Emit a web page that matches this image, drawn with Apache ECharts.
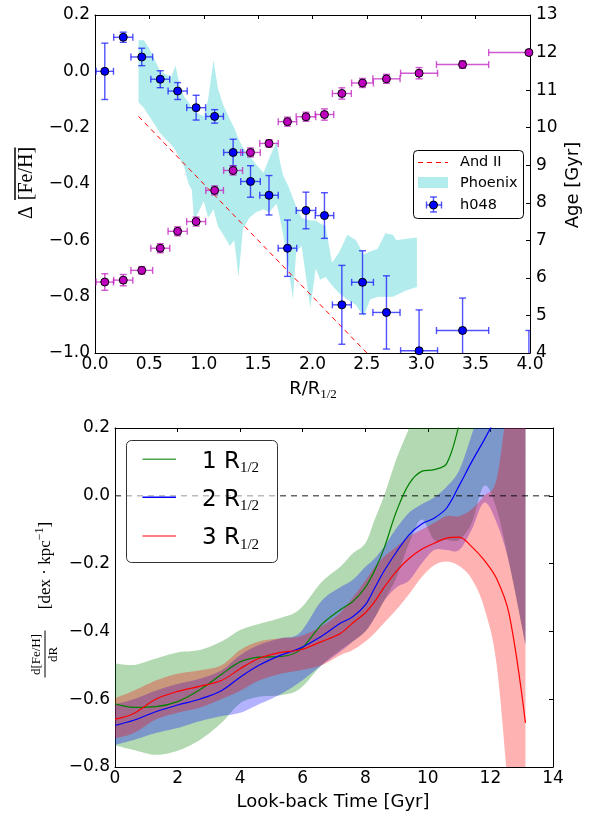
<!DOCTYPE html>
<html>
<head>
<meta charset="utf-8">
<script src="https://cdn.jsdelivr.net/npm/echarts@6/dist/echarts.min.js"></script>
<style>
  html, body { margin: 0; padding: 0; background: #fff; }
  #chart { width: 599px; height: 818px; }
</style>
</head>
<body>
<div id="chart"></div>
<script>
// ---- top panel: h048 radial bins ----
const binR     = [0.09, 0.26, 0.43, 0.6, 0.76, 0.93, 1.1, 1.27, 1.43, 1.6, 1.77, 1.94, 2.11, 2.27, 2.46, 2.68, 2.98, 3.38, 3.99];
const binRErr  = [0.08, 0.088, 0.1, 0.087, 0.088, 0.087, 0.081, 0.087, 0.09, 0.085, 0.085, 0.09, 0.085, 0.087, 0.1, 0.125, 0.17, 0.24, 0.37];
const fehH048  = [0.0, 0.121, 0.051, -0.028, -0.07, -0.129, -0.16, -0.288, -0.391, -0.44, -0.628, -0.494, -0.512, -0.829, -0.749, -0.856, -0.992, -0.92, -1.04];
const fehErr   = [0.1, 0.018, 0.031, 0.03, 0.03, 0.044, 0.024, 0.047, 0.056, 0.07, 0.1, 0.065, 0.081, 0.14, 0.112, 0.13, 0.145, 0.115, 0.12];
const ageH048  = [5.89, 5.94, 6.2, 6.79, 7.24, 7.5, 8.33, 8.86, 9.34, 9.58, 10.16, 10.29, 10.35, 10.91, 11.19, 11.3, 11.45, 11.68, 12.0];
const ageErr   = [0.22, 0.15, 0.1, 0.12, 0.12, 0.12, 0.12, 0.12, 0.12, 0.1, 0.12, 0.12, 0.15, 0.15, 0.12, 0.12, 0.15, 0.1, 0.05];

const andIIR   = [0.4, 2.5];
const andIIFeh = [-0.16, -1.0];

const phoenixR  = [0.4, 0.45, 0.5, 0.55, 0.6, 0.65, 0.7, 0.74, 0.78, 0.82, 0.86, 0.89, 0.91, 0.95, 1.0, 1.04, 1.09, 1.13, 1.18, 1.24, 1.28, 1.32, 1.36, 1.42, 1.48, 1.55, 1.6, 1.67, 1.7, 1.73, 1.78, 1.82, 1.85, 1.9, 1.98, 2.03, 2.07, 2.12, 2.18, 2.25, 2.32, 2.4, 2.47, 2.53, 2.6, 2.67, 2.74, 2.77, 2.85, 2.96];
const phoenixLo = [-0.11, -0.13, -0.16, -0.19, -0.22, -0.24, -0.26, -0.28, -0.31, -0.34, -0.4, -0.42, -0.53, -0.5, -0.46, -0.52, -0.49, -0.55, -0.58, -0.62, -0.6, -0.73, -0.56, -0.52, -0.5, -0.49, -0.5, -0.47, -0.52, -0.58, -0.7, -0.81, -0.64, -0.62, -0.84, -0.7, -0.74, -0.73, -0.76, -0.79, -0.81, -0.83, -0.87, -0.81, -0.8, -0.8, -0.8, -0.795, -0.78, -0.766];
const phoenixHi = [0.11, 0.11, 0.08, 0.04, 0.0, -0.01, -0.02, 0.02, -0.05, -0.09, -0.11, -0.13, -0.14, -0.15, -0.16, -0.1, 0.04, -0.06, -0.12, -0.17, -0.2, -0.24, -0.27, -0.3, -0.33, -0.36, -0.31, -0.25, -0.32, -0.37, -0.41, -0.45, -0.48, -0.52, -0.53, -0.53, -0.54, -0.55, -0.68, -0.64, -0.58, -0.6, -0.65, -0.64, -0.63, -0.575, -0.58, -0.6, -0.595, -0.59];

// ---- bottom panel: gradient vs look-back time ----
const lookback = [0, 0.6, 1.3, 2.0, 2.7, 3.4, 4.0, 4.6, 5.3, 5.9, 6.6, 7.2, 7.6, 8.0, 8.3, 8.6, 9.0, 9.4, 9.8, 10.2, 10.6, 11.0, 11.4, 11.8, 12.2, 12.6, 13.12];
const grad1 = [-0.614, -0.624, -0.622, -0.607, -0.573, -0.527, -0.49, -0.476, -0.474, -0.456, -0.38, -0.336, -0.312, -0.27, -0.22, -0.155, -0.045, 0.035, 0.072, 0.077, 0.095, 0.21, 0.36];
const grad2 = [-0.677, -0.662, -0.637, -0.617, -0.6, -0.575, -0.535, -0.5, -0.47, -0.45, -0.414, -0.376, -0.357, -0.322, -0.272, -0.222, -0.165, -0.115, -0.083, -0.066, -0.036, 0.03, 0.1, 0.165, 0.235];
const grad3 = [-0.659, -0.642, -0.6, -0.577, -0.562, -0.545, -0.51, -0.48, -0.462, -0.455, -0.43, -0.406, -0.375, -0.345, -0.312, -0.27, -0.222, -0.185, -0.158, -0.14, -0.125, -0.122, -0.15, -0.19, -0.245, -0.35, -0.67];
const band1Lo = [-0.736, -0.75, -0.764, -0.752, -0.721, -0.67, -0.612, -0.593, -0.588, -0.57, -0.5, -0.455, -0.43, -0.4, -0.36, -0.31, -0.24, -0.14, -0.07, -0.13, -0.13, -0.13, -0.08, 0.03, -0.04, -0.2, -0.44];
const band1Hi = [-0.494, -0.499, -0.48, -0.462, -0.455, -0.43, -0.396, -0.378, -0.36, -0.335, -0.255, -0.209, -0.17, -0.14, -0.07, 0.0, 0.11, 0.2, 0.3, 0.4, 0.45, 0.5, 0.55, 0.6, 0.6, 0.6, 0.6];
const band2Lo = [-0.735, -0.72, -0.7, -0.685, -0.665, -0.65, -0.64, -0.615, -0.585, -0.55, -0.5, -0.46, -0.43, -0.4, -0.36, -0.31, -0.27, -0.25, -0.2, -0.16, -0.16, -0.16, -0.1, -0.02, -0.08, -0.2, -0.44];
const band2Hi = [-0.615, -0.6, -0.575, -0.555, -0.54, -0.515, -0.47, -0.44, -0.42, -0.405, -0.31, -0.27, -0.248, -0.21, -0.185, -0.15, -0.095, -0.05, -0.025, -0.005, 0.027, 0.075, 0.18, 0.3, 0.4, 0.45, 0.5];
const band3Lo = [-0.715, -0.7, -0.66, -0.64, -0.625, -0.6, -0.575, -0.545, -0.525, -0.515, -0.5, -0.47, -0.455, -0.43, -0.405, -0.375, -0.335, -0.29, -0.24, -0.205, -0.194, -0.207, -0.245, -0.33, -0.5, -0.9, -1.4];
const band3Hi = [-0.597, -0.575, -0.545, -0.525, -0.515, -0.5, -0.455, -0.43, -0.42, -0.415, -0.385, -0.345, -0.3, -0.25, -0.21, -0.18, -0.15, -0.12, -0.1, -0.08, -0.06, -0.06, -0.04, 0.0, 0.05, 0.3, 0.5];
const zeroT = [0, 14];
const zeroY = [0, 0];

const sans = 'DejaVu Sans';
const serif = 'Liberation Serif';
const minus = v => (v < -1e-9 ? '\u2212' : '') + Math.abs(v).toFixed(1);
const black = { color: '#000', width: 1 };

function xAx(grid, max, step, pos, labels) {
  return {
    gridIndex: grid, type: 'value', min: 0, max: max, interval: step, position: pos,
    axisLine: { show: true, onZero: false, lineStyle: black },
    axisTick: { show: pos === 'top', inside: true, length: 4, lineStyle: black },
    splitLine: { show: false },
    axisLabel: labels ? { fontSize: 17, fontFamily: sans, color: '#000', margin: 3,
      formatter: max === 4 ? (v => v.toFixed(1)) : (v => String(v)) } : { show: false }
  };
}
function yAx(grid, min, max, step, pos, labels, fmt, margin) {
  return {
    gridIndex: grid, type: 'value', min: min, max: max, interval: step, position: pos,
    axisLine: { show: true, onZero: false, lineStyle: black },
    axisTick: { show: pos === 'right', inside: true, length: 4, lineStyle: black },
    splitLine: { show: false },
    axisLabel: labels ? { fontSize: 17, fontFamily: sans, color: '#000', margin: margin, formatter: fmt } : { show: false }
  };
}

// error bars: data item [x, y, xerr, yerr]
function errorBars(color) {
  return function (params, api) {
    const x = api.value(0), y = api.value(1), ex = api.value(2), ey = api.value(3);
    const c = api.coord([x, y]);
    const t = api.coord([x, y + ey]), b = api.coord([x, y - ey]);
    const l = api.coord([x - ex, y]), r = api.coord([x + ex, y]);
    const cap = 3.5;
    const st = { stroke: color, lineWidth: 1.4, opacity: 0.75 };
    const seg = (x1, y1, x2, y2) => ({ type: 'line', shape: { x1, y1, x2, y2 }, style: st });
    return { type: 'group', children: [
      seg(c[0], t[1], c[0], b[1]),
      seg(c[0] - cap, t[1], c[0] + cap, t[1]),
      seg(c[0] - cap, b[1], c[0] + cap, b[1]),
      seg(l[0], c[1], r[0], c[1]),
      seg(l[0], c[1] - cap, l[0], c[1] + cap),
      seg(r[0], c[1] - cap, r[0], c[1] + cap)
    ] };
  };
}

// catmull-rom through pixel points, sampled for drawing only
function spline(p) {
  const out = [p[0]];
  const n = p.length;
  for (let i = 0; i < n - 1; i++) {
    const p0 = p[Math.max(i - 1, 0)], p1 = p[i], p2 = p[i + 1], p3 = p[Math.min(i + 2, n - 1)];
    const c1 = [p1[0] + (p2[0] - p0[0]) / 6, p1[1] + (p2[1] - p0[1]) / 6];
    const c2 = [p2[0] - (p3[0] - p1[0]) / 6, p2[1] - (p3[1] - p1[1]) / 6];
    for (let s = 1; s <= 10; s++) {
      const u = s / 10, v = 1 - u;
      out.push([
        v * v * v * p1[0] + 3 * v * v * u * c1[0] + 3 * v * u * u * c2[0] + u * u * u * p2[0],
        v * v * v * p1[1] + 3 * v * v * u * c1[1] + 3 * v * u * u * c2[1] + u * u * u * p2[1]
      ]);
    }
  }
  return out;
}

function band(name, lo, hi, color) {
  return {
    name: name, type: 'custom', xAxisIndex: 2, yAxisIndex: 2, clip: true, z: 1, silent: true,
    data: lookback.map((t, i) => [t, lo[i], hi[i]]),
    renderItem: function (params, api) {
      if (params.dataIndex !== 0) return null;
      const up = lookback.map((t, i) => api.coord([t, hi[i]]));
      const dn = lookback.map((t, i) => api.coord([t, lo[i]])).reverse();
      return { type: 'polygon', shape: { points: spline(up).concat(spline(dn)) },
        style: { fill: color, opacity: 0.3 } };
    }
  };
}
function curve(vals, color) {
  return {
    type: 'line', xAxisIndex: 2, yAxisIndex: 2, symbol: 'none', smooth: 0.35, z: 4,
    data: vals.map((v, i) => [lookback[i], v]),
    lineStyle: { color: color, width: 1.2 }
  };
}

const chart = echarts.init(document.getElementById('chart'));

const option = {
  animation: false,
  backgroundColor: '#fff',
  grid: [
    { left: 95, top: 15, width: 435, height: 338, outerBoundsMode: 'none' },
    { left: 115, top: 428, width: 438, height: 339, outerBoundsMode: 'none' }
  ],
  xAxis: [
    xAx(0, 4, 0.5, 'bottom', true),
    xAx(0, 4, 0.5, 'top', false),
    xAx(1, 14, 2, 'bottom', true),
    xAx(1, 14, 2, 'top', false)
  ],
  yAxis: [
    yAx(0, -1, 0.2, 0.2, 'left', true, minus, 5),
    yAx(0, 4, 13, 1, 'right', true, v => String(v), 6),
    yAx(1, -0.8, 0.2, 0.2, 'left', true, minus, 5),
    yAx(1, -0.8, 0.2, 0.2, 'right', false)
  ],
  series: [
    {
      name: 'Phoenix', type: 'custom', xAxisIndex: 0, yAxisIndex: 0, clip: true, z: 1, silent: true,
      data: phoenixR.map((r, i) => [r, phoenixLo[i], phoenixHi[i]]),
      renderItem: function (params, api) {
        if (params.dataIndex !== 0) return null;
        const pts = [];
        phoenixR.forEach((r, i) => pts.push(api.coord([r, phoenixHi[i]])));
        for (let i = phoenixR.length - 1; i >= 0; i--) pts.push(api.coord([phoenixR[i], phoenixLo[i]]));
        return { type: 'polygon', shape: { points: pts }, style: { fill: '#b3ecec' } };
      }
    },
    {
      name: 'And II', type: 'line', xAxisIndex: 0, yAxisIndex: 0, symbol: 'none', z: 2,
      data: andIIR.map((r, i) => [r, andIIFeh[i]]),
      lineStyle: { color: '#ff0000', width: 1, type: [5, 4] }
    },
    {
      name: 'h048 err', type: 'custom', xAxisIndex: 0, yAxisIndex: 0, clip: true, z: 3,
      data: binR.map((r, i) => [r, fehH048[i], binRErr[i], fehErr[i]]),
      renderItem: errorBars('#1a1aff')
    },
    {
      name: 'h048', type: 'scatter', xAxisIndex: 0, yAxisIndex: 0, symbolSize: 8, z: 4,
      data: binR.map((r, i) => [r, fehH048[i]]),
      itemStyle: { color: '#0000ff', borderColor: '#000', borderWidth: 1, opacity: 1 }
    },
    {
      name: 'age err', type: 'custom', xAxisIndex: 0, yAxisIndex: 1, clip: true, z: 5,
      data: binR.map((r, i) => [r, ageH048[i], binRErr[i], ageErr[i]]),
      renderItem: errorBars('#c020c0')
    },
    {
      name: 'age', type: 'scatter', xAxisIndex: 0, yAxisIndex: 1, symbolSize: 8, z: 6,
      data: binR.map((r, i) => [r, ageH048[i]]),
      itemStyle: { color: '#bf00bf', borderColor: '#000', borderWidth: 1, opacity: 1 }
    },
    band('1 R', band1Lo, band1Hi, '#008000'),
    band('2 R', band2Lo, band2Hi, '#0000ff'),
    band('3 R', band3Lo, band3Hi, '#ff0000'),
    {
      name: 'zero', type: 'line', xAxisIndex: 2, yAxisIndex: 2, symbol: 'none', z: 3, silent: true,
      data: zeroT.map((t, i) => [t, zeroY[i]]),
      lineStyle: { color: '#000', opacity: 0.6, width: 1.5, type: [6, 5] }
    },
    curve(grad1, '#008000'),
    curve(grad2, '#0000ff'),
    curve(grad3, '#ff0000')
  ],
  graphic: [
    // top legend
    { type: 'rect', z: 100, shape: { x: 413.5, y: 150.5, width: 110, height: 68, r: 4 },
      style: { fill: '#fff', stroke: '#000', lineWidth: 1 } },
    { type: 'line', z: 101, shape: { x1: 418, y1: 162.5, x2: 448, y2: 162.5 },
      style: { stroke: '#ff0000', lineWidth: 1, lineDash: [5, 4] } },
    { type: 'rect', z: 101, shape: { x: 418, y: 177, width: 30, height: 11 }, style: { fill: '#b3ecec' } },
    { type: 'line', z: 101, shape: { x1: 426.5, y1: 205, x2: 441.5, y2: 205 }, style: { stroke: '#1a1aff', lineWidth: 1.4, opacity: 0.75 } },
    { type: 'line', z: 101, shape: { x1: 433.5, y1: 197, x2: 433.5, y2: 212 }, style: { stroke: '#1a1aff', lineWidth: 1.4, opacity: 0.75 } },
    { type: 'line', z: 101, shape: { x1: 430, y1: 197, x2: 437, y2: 197 }, style: { stroke: '#1a1aff', lineWidth: 1.4, opacity: 0.75 } },
    { type: 'line', z: 101, shape: { x1: 430, y1: 212, x2: 437, y2: 212 }, style: { stroke: '#1a1aff', lineWidth: 1.4, opacity: 0.75 } },
    { type: 'line', z: 101, shape: { x1: 426.5, y1: 201.5, x2: 426.5, y2: 208.5 }, style: { stroke: '#1a1aff', lineWidth: 1.4, opacity: 0.75 } },
    { type: 'line', z: 101, shape: { x1: 441.5, y1: 201.5, x2: 441.5, y2: 208.5 }, style: { stroke: '#1a1aff', lineWidth: 1.4, opacity: 0.75 } },
    { type: 'circle', z: 102, shape: { cx: 433.5, cy: 205, r: 4 }, style: { fill: '#0000ff', stroke: '#000', lineWidth: 1 } },
    { type: 'text', z: 101, x: 460, y: 162.5, style: { text: 'And II', fontSize: 14.5, fontFamily: sans, fill: '#000', verticalAlign: 'middle' } },
    { type: 'text', z: 101, x: 460, y: 183, style: { text: 'Phoenix', fontSize: 14.5, fontFamily: sans, fill: '#000', verticalAlign: 'middle' } },
    { type: 'text', z: 101, x: 460, y: 205, style: { text: 'h048', fontSize: 14.5, fontFamily: sans, fill: '#000', verticalAlign: 'middle' } },

    // bottom legend
    { type: 'rect', z: 100, shape: { x: 126.5, y: 440.5, width: 151, height: 122, r: 5 },
      style: { fill: 'rgba(255,255,255,0.55)', stroke: '#333', lineWidth: 1 } },
    { type: 'rect', z: 101, shape: { x: 142.5, y: 458.5, width: 33.5, height: 1.6 }, style: { fill: '#4da64d' } },
    { type: 'rect', z: 101, shape: { x: 142.5, y: 496.5, width: 33.5, height: 1.6 }, style: { fill: '#0000ff' } },
    { type: 'rect', z: 101, shape: { x: 142.5, y: 535.2, width: 33.5, height: 1.6 }, style: { fill: '#ff5555' } },
    ...['1', '2', '3'].map((k, i) => ({
      type: 'text', z: 101, x: 202, y: [462, 500, 538.5][i],
      style: {
        text: '{n|' + k + ' R}{s|1/2}', verticalAlign: 'middle',
        rich: {
          n: { fontSize: 23, fontFamily: sans, fill: '#000', lineHeight: 28, verticalAlign: 'middle' },
          s: { fontSize: 15, fontFamily: serif, fill: '#000', lineHeight: 14, verticalAlign: 'bottom' }
        }
      }
    })),

    // axis titles
    { type: 'text', z: 101, x: 313, y: 389,
      style: { text: '{n|R/R}{s|1/2}', align: 'center', verticalAlign: 'middle',
        rich: {
          n: { fontSize: 18, fontFamily: sans, fill: '#000', lineHeight: 24, verticalAlign: 'middle' },
          s: { fontSize: 13, fontFamily: serif, fill: '#000', lineHeight: 12, verticalAlign: 'bottom' }
        } } },
    { type: 'text', z: 101, x: 333, y: 802,
      style: { text: 'Look-back Time [Gyr]', fontSize: 18, fontFamily: sans, fill: '#000', align: 'center', verticalAlign: 'middle' } },
    { type: 'text', z: 101, x: 573, y: 185, rotation: Math.PI / 2,
      style: { text: 'Age [Gyr]', fontSize: 18, fontFamily: sans, fill: '#000', align: 'center', verticalAlign: 'middle' } },
    { type: 'group', z: 101, x: 27, y: 183, rotation: Math.PI / 2, children: [
      { type: 'text', x: 0, y: 0,
        style: { text: '{d|\u0394}{f|[Fe/H]}', align: 'center', verticalAlign: 'middle',
          rich: {
            d: { fontSize: 20, fontFamily: serif, fill: '#000', padding: [0, 6, 0, 0] },
            f: { fontSize: 20, fontFamily: serif, fill: '#000' }
          } } },
      { type: 'line', shape: { x1: -17, y1: -12, x2: 35.5, y2: -12 }, style: { stroke: '#000', lineWidth: 1.5 } }
    ] },
    { type: 'group', z: 101, x: 45, y: 597.5, rotation: Math.PI / 2, children: [
      { type: 'text', x: -57, y: -8,
        style: { text: 'd[Fe/H]', fontSize: 13, fontFamily: serif, fill: '#000', align: 'center', verticalAlign: 'middle' } },
      { type: 'line', shape: { x1: -80, y1: 0, x2: -33, y2: 0 }, style: { stroke: '#000', lineWidth: 1 } },
      { type: 'text', x: -57, y: 9,
        style: { text: 'dR', fontSize: 13, fontFamily: serif, fill: '#000', align: 'center', verticalAlign: 'middle' } },
      { type: 'text', x: 32, y: 1,
        style: { text: '{m|[dex \u00b7 kpc}{u|\u22121}{m|]}', align: 'center', verticalAlign: 'middle',
          rich: {
            m: { fontSize: 17, fontFamily: serif, fill: '#000', lineHeight: 24, verticalAlign: 'middle' },
            u: { fontSize: 12, fontFamily: serif, fill: '#000', lineHeight: 12, verticalAlign: 'top' }
          } } }
    ] }
  ]
};

chart.setOption(option);
</script>
</body>
</html>
